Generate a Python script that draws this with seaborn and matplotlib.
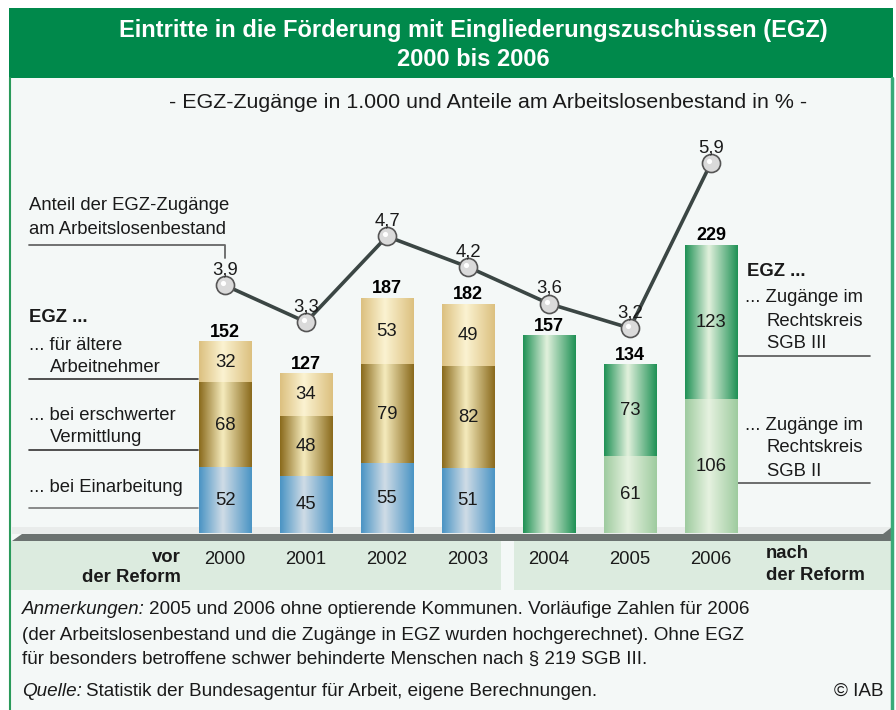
import numpy as np
import pandas as pd
import matplotlib
matplotlib.use("Agg")
import matplotlib.pyplot as plt
import matplotlib.transforms as mtransforms
from matplotlib.colors import LinearSegmentedColormap
from matplotlib.patches import Polygon, Rectangle
import seaborn as sns


# data
years = ['2000', '2001', '2002', '2003', '2004', '2005', '2006']
years_vor = years[:4]
years_nach = years[4:]

einarbeitung = [52, 45, 55, 51]      # ... bei Einarbeitung
erschwert = [68, 48, 79, 82]         # ... bei erschwerter Vermittlung
aeltere = [32, 34, 53, 49]           # ... fuer aeltere Arbeitnehmer

sgb3 = [157, 73, 123]                # Zugaenge im Rechtskreis SGB III
sgb2 = [0, 61, 106]                  # Zugaenge im Rechtskreis SGB II

totals = [152, 127, 187, 182, 157, 134, 229]
anteil = [3.9, 3.3, 4.7, 4.2, 3.6, 3.2, 5.9]   # Anteil am Arbeitslosenbestand in %


sns.set_style("white")
plt.rcParams['font.family'] = ['Liberation Sans', 'DejaVu Sans']
FS = 13.3
FOOT = 13.6
TXT = '#1a1a1a'

fig = plt.figure(figsize=(8.96, 7.10), dpi=100)
fig.patch.set_facecolor('white')

# background layer in pixel coordinates
bg = fig.add_axes([0, 0, 1, 1], zorder=0)
bg.set_xlim(0, 896)
bg.set_ylim(710, 0)
bg.axis('off')

bg.add_patch(Rectangle((9, 78), 884, 640, color='#f4f8f7', lw=0))
bg.add_patch(Rectangle((9, 8), 884, 70, color='#00894b', lw=0))
bg.plot([9.5, 9.5], [78, 710], color='#2a9a5a', lw=1.5)
bg.plot([892, 892], [78, 710], color='#3aaa78', lw=2.5)

# floor
bg.add_patch(Rectangle((12, 527), 880, 7, color='#e9eceb', lw=0))
bg.add_patch(Polygon([(12, 541), (22, 534), (883, 534), (892, 527), (892, 541)],
                     closed=True, color='#6b7270', lw=0))
bg.add_patch(Rectangle((9, 541), 492, 49, color='#dcebdf', lw=0))
bg.add_patch(Rectangle((514, 541), 377, 49, color='#dcebdf', lw=0))

# titles
bg.text(473, 30, 'Eintritte in die Förderung mit Eingliederungszuschüssen (EGZ)',
        color='white', fontsize=17, fontweight='bold', ha='center', va='center')
bg.text(473, 59, '2000 bis 2006', color='white', fontsize=17,
        fontweight='bold', ha='center', va='center')
bg.text(488, 103, '- EGZ-Zugänge in 1.000 und Anteile am Arbeitslosenbestand in % -',
        color=TXT, fontsize=15.4, ha='center', va='center')

# left annotations
bg.text(29, 205, 'Anteil der EGZ-Zugänge', fontsize=FS, color=TXT, va='center')
bg.text(29, 230, 'am Arbeitslosenbestand', fontsize=FS, color=TXT, va='center')
bg.plot([29, 225, 225], [245, 245, 258], color='#666666', lw=1.3)

bg.text(29, 318, 'EGZ ...', fontsize=FS, fontweight='bold', color=TXT, va='center')
bg.text(29, 345, '... für ältere', fontsize=FS, color=TXT, va='center')
bg.text(50, 368, 'Arbeitnehmer', fontsize=FS, color=TXT, va='center')
bg.plot([29, 198], [379, 379], color='#333333', lw=1.2)
bg.text(29, 415, '... bei erschwerter', fontsize=FS, color=TXT, va='center')
bg.text(50, 438, 'Vermittlung', fontsize=FS, color=TXT, va='center')
bg.plot([29, 198], [450, 450], color='#333333', lw=1.2)
bg.text(29, 487, '... bei Einarbeitung', fontsize=FS, color=TXT, va='center')
bg.plot([29, 198], [508, 508], color='#777777', lw=1.2)

# right annotations
bg.text(747, 271, 'EGZ ...', fontsize=FS, fontweight='bold', color=TXT, va='center')
bg.text(745, 297, '... Zugänge im', fontsize=FS, color=TXT, va='center')
bg.text(767, 321, 'Rechtskreis', fontsize=FS, color=TXT, va='center')
bg.text(767, 344, 'SGB III', fontsize=FS, color=TXT, va='center')
bg.plot([738, 870], [356, 356], color='#555555', lw=1.2)
bg.text(745, 425, '... Zugänge im', fontsize=FS, color=TXT, va='center')
bg.text(767, 448, 'Rechtskreis', fontsize=FS, color=TXT, va='center')
bg.text(767, 472, 'SGB II', fontsize=FS, color=TXT, va='center')
bg.plot([738, 870], [483, 483], color='#555555', lw=1.2)

# reform labels
bg.text(181, 557, 'vor', fontsize=FS, fontweight='bold', color=TXT, ha='right', va='center')
bg.text(181, 578, 'der Reform', fontsize=FS, fontweight='bold', color=TXT, ha='right', va='center')
bg.text(766, 553, 'nach', fontsize=FS, fontweight='bold', color=TXT, va='center')
bg.text(766, 575, 'der Reform', fontsize=FS, fontweight='bold', color=TXT, va='center')

# footer
renderer = fig.canvas.get_renderer()


def mixed_line(x, y, italic, rest):
    t = bg.text(x, y, italic, fontsize=FOOT, style='italic', color=TXT, va='center')
    bb = t.get_window_extent(renderer)
    x1 = bg.transData.inverted().transform((bb.x1, bb.y0))[0]
    bg.text(x1 + 4, y, rest, fontsize=FOOT, color=TXT, va='center')


mixed_line(22, 610, 'Anmerkungen:',
           '2005 und 2006 ohne optierende Kommunen. Vorläufige Zahlen für 2006')
bg.text(22, 635, '(der Arbeitslosenbestand und die Zugänge in EGZ wurden hochgerechnet). Ohne EGZ',
        fontsize=FOOT, color=TXT, va='center')
bg.text(22, 659, 'für besonders betroffene schwer behinderte Menschen nach § 219 SGB III.',
        fontsize=FOOT, color=TXT, va='center')
mixed_line(22, 691, 'Quelle:', 'Statistik der Bundesagentur für Arbeit, eigene Berechnungen.')
bg.text(884, 691, '© IAB', fontsize=FOOT, color=TXT, ha='right', va='center')


# main chart axes
ax = fig.add_axes([184.5 / 896, (710 - 533) / 710, 567 / 896, 403 / 710], zorder=2)
ax.patch.set_alpha(0)

vor = pd.DataFrame({'Jahr': years_vor, 'einarb': einarbeitung,
                    'erschw': erschwert, 'aelt': aeltere})
vor['c0'] = 0
vor['c1'] = vor.einarb
vor['c2'] = vor.c1 + vor.erschw
vor['c3'] = vor.c2 + vor.aelt
nach = pd.DataFrame({'Jahr': years_nach, 'sgb2': sgb2, 'sgb3': sgb3})
nach['c0'] = 0
nach['c1'] = nach.sgb2
nach['c2'] = nach.c1 + nach.sgb3

# (frame, top col, bottom col, value col, edge colour, highlight colour)
layers = [
    (vor, 'c3', 'c2', 'aelt', '#dcc07f', '#fbf3d2'),
    (vor, 'c2', 'c1', 'erschw', '#8a6a1c', '#f5ebbd'),
    (vor, 'c1', 'c0', 'einarb', '#4a94c4', '#d0dce6'),
    (nach, 'c2', 'c1', 'sgb3', '#1f9155', '#e2f1dd'),
    (nach, 'c1', 'c0', 'sgb2', '#9ecb9f', '#e6f2e0'),
]

grad = np.linspace(0, 1, 128).reshape(1, -1)
for df, top, bot, val, edge, mid in layers:
    n0 = len(ax.patches)
    sns.barplot(data=df, x='Jahr', y=top, order=years, color=edge,
                saturation=1, width=0.65, ax=ax)
    cmap = LinearSegmentedColormap.from_list(val, [(0, edge), (0.45, mid), (1, edge)])
    for p in ax.patches[n0:]:
        x0, w = p.get_x(), p.get_width()
        i = int(round(x0 + w / 2))
        row = df[df.Jahr == years[i]].iloc[0]
        lo, hi = row[bot], row[top]
        p.set_visible(False)
        if hi - lo <= 0:
            continue
        ax.imshow(grad, cmap=cmap, extent=(x0, x0 + w, lo, hi), aspect='auto',
                  interpolation='bicubic', zorder=2)
        # a bar made of a single segment gets no inner label
        if row[val] != totals[i]:
            ax.text(i, (lo + hi) / 2, str(row[val]), ha='center', va='center',
                    fontsize=FS, color=TXT, zorder=5)

for i, t in enumerate(totals):
    ax.text(i, t + 4, str(t), ha='center', va='baseline', fontsize=13,
            fontweight='bold', color='black', zorder=5)

ax.set_xlim(-0.5, 6.5)
ax.set_ylim(0, 321)
ax.set_xlabel('')
ax.set_ylabel('')
ax.set_yticks([])
ax.tick_params(axis='x', length=0, pad=13, labelsize=FS, labelcolor=TXT)
sns.despine(ax=ax, left=True, bottom=True)

# share line on a second scale
ax2 = ax.twinx()
ax2.set_zorder(3)
ax2.patch.set_alpha(0)
xpos = np.arange(len(years))
sns.lineplot(x=xpos, y=anteil, ax=ax2, color='#3b4644', linewidth=2.6,
             marker='o', markersize=13, markerfacecolor='#dadada',
             markeredgecolor='#555555', markeredgewidth=1.2)
hl = mtransforms.offset_copy(ax2.transData, fig=fig, x=-2, y=2, units='dots')
ax2.scatter(xpos, anteil, s=14, color='white', transform=hl, zorder=4, lw=0)
for i, v in enumerate(anteil):
    ax2.annotate(f'{v:.1f}'.replace('.', ','), (i, v), xytext=(0, 11),
                 textcoords='offset points', ha='center', va='center',
                 fontsize=FS, color=TXT)
ax2.set_ylim(-0.147, 6.438)
ax2.set_yticks([])
ax2.set_ylabel('')
sns.despine(ax=ax2, left=True, bottom=True, right=True)
ax.set_xlim(-0.5, 6.5)

fig.savefig('out.png', dpi=100)
